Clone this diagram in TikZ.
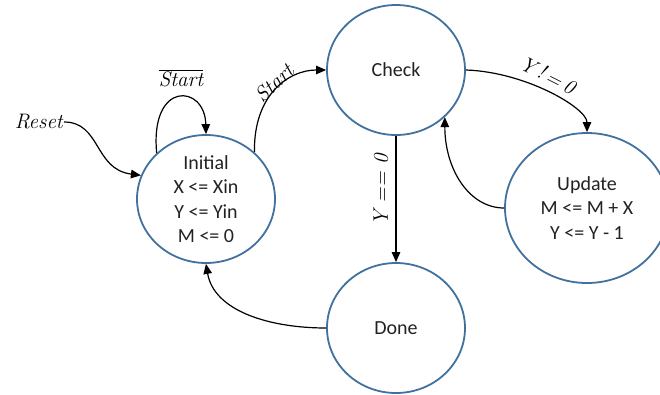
\documentclass[tikz,border=0pt]{standalone}
\usepackage{fontspec}
\newfontfamily\statefont{Carlito}
\usetikzlibrary{shapes.geometric,arrows.meta}
\definecolor{stateblue}{RGB}{65,113,156}
\definecolor{textgray}{RGB}{34,34,34}
\tikzset{
  state/.style={ellipse, draw=stateblue, line width=1.8pt, inner sep=0pt,
    align=center, text=textgray,
    font=\statefont\fontsize{20}{24.5}\selectfont},
  trans/.style={draw=black, line width=1.2pt,
    -{Triangle[length=10pt,width=8.5pt]}},
  cond/.style={inner sep=1pt, text=black,
    font=\itshape\fontsize{21}{25}\selectfont}
}
\begin{document}
\begin{tikzpicture}[x=1pt,y=-1pt]
\useasboundingbox (0,0) rectangle (660,394);

% states
\node[state, minimum width=138pt, minimum height=128pt] (init) at (206,199)
  {Initial\\X <= Xin\\Y <= Yin\\M <= 0};
\node[state, minimum width=138pt, minimum height=130pt] (check) at (396,70) {Check};
\node[state, minimum width=164pt, minimum height=150pt] (update) at (587,208)
  {Update\\M <= M + X\\Y <= Y - 1};
\node[state, minimum width=138pt, minimum height=130pt] (done) at (396,328) {Done};

% reset input
\node[cond, anchor=east] (reset) at (64,122) {Reset};
\draw[trans] (reset.east) .. controls +(37,0) and +(-47,-6) .. (init.160);

% transitions
\draw[trans] (init.137) .. controls +(-7,-73) and +(-1,-50) .. (init.90);
\node[cond] (nstart) at (181,78) {$\overline{\hbox{Start}}$};

\draw[trans] (init.44) .. controls +(-1,-58) and +(-37,0) .. (check.180);
\node[cond, rotate=43] (start) at (274,83) {Start};

\draw[trans] (check.0) .. controls +(60,2) and +(0,-24) .. (update.90);
\node[cond, rotate=-27] (ynz) at (548,75) {Y\kern4pt!\kern3pt=\kern4pt0};

\draw[trans] (update.180) .. controls +(-35,0) and +(0,52) .. (check.-44);

\draw[trans] (check.270) -- (done.90);
\node[cond, rotate=90] (yz) at (381,190) {Y == 0};

\draw[trans] (done.180) .. controls +(-57,0) and +(8,47) .. (init.270);
\end{tikzpicture}
\end{document}
